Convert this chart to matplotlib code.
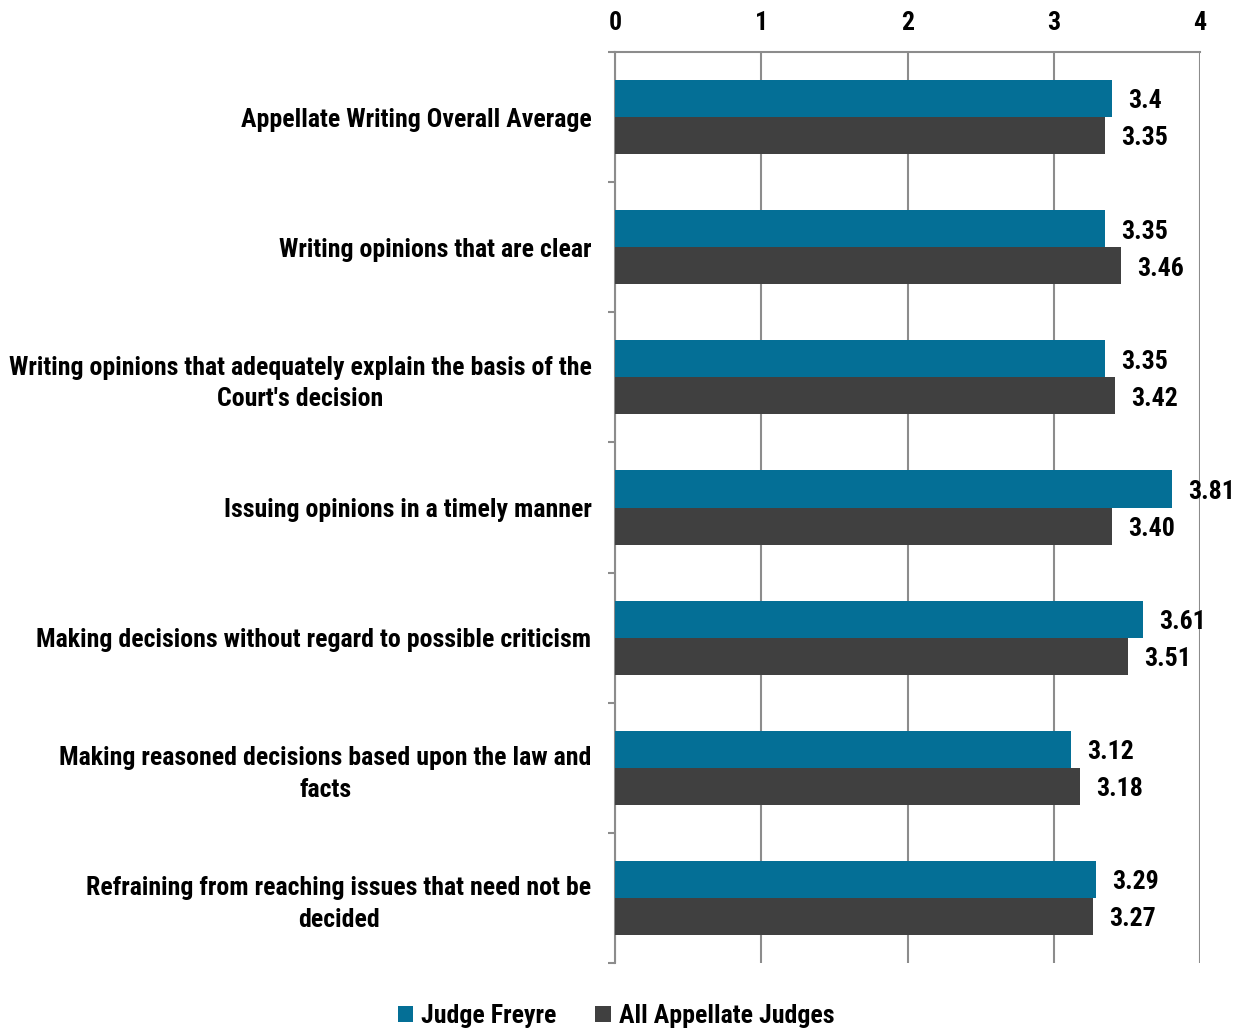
import matplotlib
matplotlib.use("Agg")
import matplotlib.pyplot as plt
from matplotlib.patches import Patch
from matplotlib import font_manager as fm
import numpy as np

categories = [
    "Appellate Writing Overall Average",
    "Writing opinions that are clear",
    "Writing opinions that adequately explain the basis of the\nCourt's decision",
    "Issuing opinions in a timely manner",
    "Making decisions without regard to possible criticism",
    "Making reasoned decisions based upon the law and\nfacts",
    "Refraining from reaching issues that need not be\ndecided",
]
judge_freyre = [3.4, 3.35, 3.35, 3.81, 3.61, 3.12, 3.29]
judge_labels = ["3.4", "3.35", "3.35", "3.81", "3.61", "3.12", "3.29"]
all_judges = [3.35, 3.46, 3.42, 3.40, 3.51, 3.18, 3.27]
all_labels = ["3.35", "3.46", "3.42", "3.40", "3.51", "3.18", "3.27"]
series_names = ["Judge Freyre", "All Appellate Judges"]
xticks = [0, 1, 2, 3, 4]

TEAL = "#046F96"
DARK = "#404040"
GRID = "#8C8C8C"


def find_condensed_bold():
    best = None
    for f in fm.fontManager.ttflist:
        name = f.name or ""
        st = str(f.stretch).lower()
        cond = ("narrow" in name.lower() or "condensed" in name.lower()
                or "condensed" in st or "narrow" in st)
        if not cond:
            continue
        w = f.weight if isinstance(f.weight, int) else (700 if "bold" in str(f.weight).lower() else 400)
        if w < 600:
            continue
        score = 0
        if "Liberation" in name or "Arial" in name:
            score = 3
        elif "Roboto" in name:
            score = 2
        elif "DejaVu" in name:
            score = 1
        if best is None or score > best[0]:
            best = (score, f.fname)
    return best[1] if best else None


path = find_condensed_bold()
if path:
    base_fp = fm.FontProperties(fname=path)
else:
    base_fp = fm.FontProperties(family=['Liberation Sans', 'DejaVu Sans'], weight='bold')

fig = plt.figure(figsize=(12.37, 10.30), dpi=100)
renderer = fig.canvas.get_renderer()

# size the font so the first label spans about as wide as in the reference
probe = fig.text(0, 0, categories[0], fontproperties=base_fp, fontsize=18)
wpx = probe.get_window_extent(renderer).width
probe.remove()
fs = min(19.0, 18.0 * 351.0 / wpx)


def fp():
    p = base_fp.copy()
    p.set_size(fs)
    return p


ax = fig.add_axes([615/1237, 1-963/1030, (1200-615)/1237, (963-52)/1030])

n = len(categories)
centers = np.arange(n) + 0.5
h = 0.285
ax.barh(centers - h/2, judge_freyre, height=h, color=TEAL, zorder=3)
ax.barh(centers + h/2, all_judges, height=h, color=DARK, zorder=3)

dy = 0.022
for c, v, t in zip(centers, judge_freyre, judge_labels):
    ax.text(v + 0.11, c - h/2 + dy, t, ha='left', va='center', fontproperties=fp(), color='black')
for c, v, t in zip(centers, all_judges, all_labels):
    ax.text(v + 0.11, c + h/2 + dy, t, ha='left', va='center', fontproperties=fp(), color='black')

ax.set_xlim(0, 4)
ax.set_ylim(n, 0)
ax.set_xticks(xticks)
ax.set_xticklabels([str(x) for x in xticks], fontproperties=fp())
ax.xaxis.tick_top()
ax.tick_params(axis='x', length=0, pad=12)
ax.grid(axis='x', color=GRID, linewidth=1.5, zorder=0)

ax.set_yticks(centers)
ax.set_yticklabels(categories, fontproperties=fp())
for lab in ax.get_yticklabels():
    lab.set_multialignment('center')
    lab.set_linespacing(1.4)
ax.tick_params(axis='y', which='major', length=0, pad=17)
ax.set_yticks(np.arange(n + 1), minor=True)
ax.tick_params(axis='y', which='minor', length=5, width=1.5, color=GRID)

for s in ['right', 'bottom']:
    ax.spines[s].set_visible(False)
for s in ['left', 'top']:
    ax.spines[s].set_color(GRID)
    ax.spines[s].set_linewidth(1.5)

handles = [Patch(facecolor=TEAL), Patch(facecolor=DARK)]
fig.legend(handles, series_names, loc='center', bbox_to_anchor=(616/1237, 1-1016/1030),
           ncol=2, frameon=False, prop=fp(),
           handlelength=0.6, handleheight=0.6, handletextpad=0.3, columnspacing=1.5)

fig.savefig("out.png", dpi=100)
